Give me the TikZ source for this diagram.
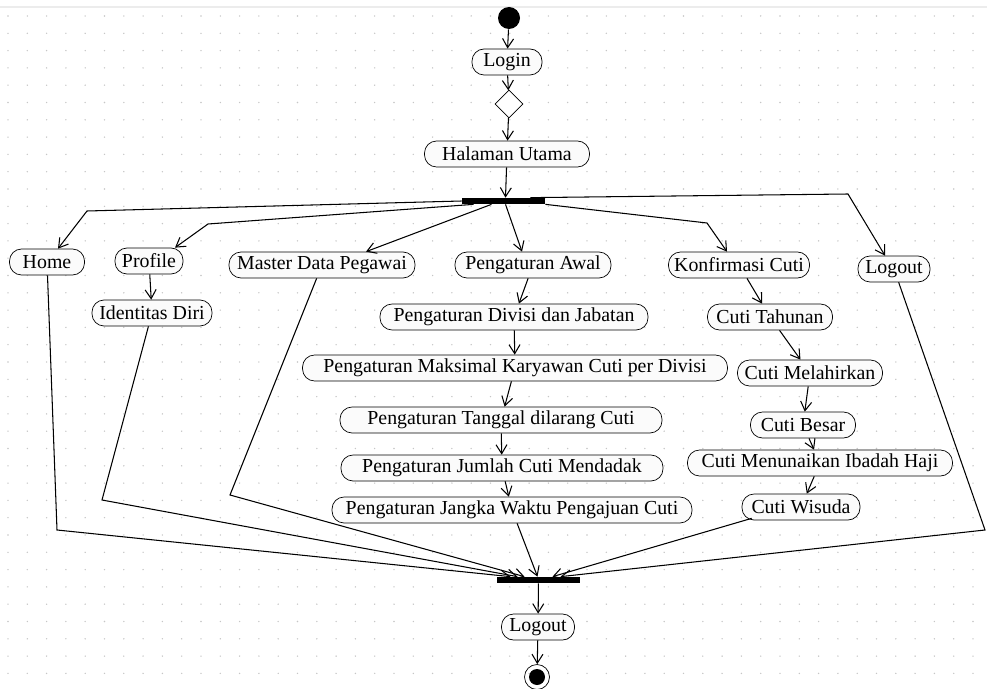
\documentclass[tikz,border=0pt]{standalone}
\usepackage{fontspec}
\setmainfont{Liberation Serif}
\usetikzlibrary{arrows.meta,shapes.geometric,calc}

\begin{document}
\begin{tikzpicture}[x=0.02cm,y=-0.02cm,
    act/.style={draw=black,fill=gray!3,rounded corners=0.24cm,minimum height=0.52cm,inner sep=1pt,font=\fontsize{11.3}{13}\selectfont},
    bar/.style={fill=black,minimum height=0.12cm,inner sep=0pt},
    flow/.style={-{Straight Barb[length=1.8mm,width=2.2mm]},semithick}]
    \useasboundingbox (0,0) rectangle (987,689);
    % background grid
    \draw[gray!15,line width=0.6pt] (0,7) -- (987,7);
    \foreach \i in {0,...,50}
        \foreach \j in {0,...,38}
            \fill[gray!45] (8+19.3*\i,16+17.3*\j) circle (0.45pt);
    % main flow
    \node[circle,fill=black,minimum size=0.44cm,inner sep=0pt] (start) at (509,18) {};
    \node[act,minimum width=1.4cm] (login) at (507,62) {Login};
    \node[diamond,draw,fill=white,minimum size=0.56cm,inner sep=0pt] (dec) at (509,104) {};
    \node[act,minimum width=3.3cm] (utama) at (507,154) {Halaman Utama};
    \node[bar,minimum width=1.66cm] (fork) at (503.5,201) {};
    % menus
    \node[act,minimum width=1.5cm] (home) at (47,262) {Home};
    \node[act,minimum width=1.36cm] (profile) at (149,261) {Profile};
    \node[act,minimum width=2.4cm] (ident) at (152,313) {Identitas Diri};
    \node[act,minimum width=3.72cm] (master) at (322,265) {Master Data Pegawai};
    \node[act,minimum width=3.12cm] (awal) at (533,265) {Pengaturan Awal};
    \node[act,minimum width=2.82cm] (konf) at (739,265) {Konfirmasi Cuti};
    \node[act,minimum width=1.44cm] (logoutA) at (894,269) {Logout};
    % pengaturan
    \node[act,minimum width=5.36cm] (divisi) at (514,317) {Pengaturan Divisi dan Jabatan};
    \node[act,minimum width=8.5cm] (maks) at (515,368) {Pengaturan Maksimal Karyawan Cuti per Divisi};
    \node[act,minimum width=6.44cm] (tanggal) at (501,420) {Pengaturan Tanggal dilarang Cuti};
    \node[act,minimum width=6.44cm] (jumlah) at (502,468) {Pengaturan Jumlah Cuti Mendadak};
    \node[act,minimum width=7.2cm] (jangka) at (512,510) {Pengaturan Jangka Waktu Pengajuan Cuti};
    % cuti
    \node[act,minimum width=2.5cm] (tahunan) at (770,317) {Cuti Tahunan};
    \node[act,minimum width=2.9cm] (lahir) at (810,373) {Cuti Melahirkan};
    \node[act,minimum width=2.1cm] (besar) at (803,425) {Cuti Besar};
    \node[act,minimum width=5.3cm] (haji) at (820,463) {Cuti Menunaikan Ibadah Haji};
    \node[act,minimum width=2.36cm] (wisuda) at (801,507) {Cuti Wisuda};
    % end
    \node[bar,minimum width=1.66cm] (join) at (538.5,580) {};
    \node[act,minimum width=1.46cm] (logoutB) at (538,627) {Logout};
    \node[circle,draw,minimum size=0.5cm,inner sep=0pt,
        path picture={\fill (path picture bounding box.center) circle (0.16cm);}] (end) at (537,677) {};

    \draw[flow] (start) -- (login);
    \draw[flow] (login) -- (dec);
    \draw[flow] (dec) -- (utama);
    \draw[flow] (utama) -- ($(fork.north)+(2,0)$);
    % fork
    \draw[flow] (fork.west) -- (87,211) -- ($(home.north)+(11,0)$);
    \draw[flow] ($(fork.south west)+(12,0)$) -- (208,224) -- ($(profile.north)+(26,0)$);
    \draw[flow] ($(fork.south)+(-12,0)$) -- ($(master.north)+(44,0)$);
    \draw[flow] ($(fork.south)+(2,0)$) -- ($(awal.north)+(-11,0)$);
    \draw[flow] (fork.south east) -- (707,223) -- ($(konf.north)+(-12,0)$);
    \draw[flow] ($(fork.north east)+(-15,0)$) -- (848,194) -- ($(logoutA.north)+(-9,0)$);
    % sub menus
    \draw[flow] (profile) -- (ident);
    \draw[flow] (awal) -- (divisi);
    \draw[flow] (divisi) -- (maks);
    \draw[flow] (maks) -- (tanggal);
    \draw[flow] (tanggal) -- (jumlah);
    \draw[flow] (jumlah) -- (jangka);
    \draw[flow] (konf) -- (tahunan);
    \draw[flow] (tahunan) -- (lahir);
    \draw[flow] (lahir) -- (besar);
    \draw[flow] (besar) -- (haji);
    \draw[flow] (haji) -- (wisuda);
    % join
    \draw[flow] (home) -- (57,530) -- ($(join.north)+(-28,0)$);
    \draw[flow] (ident) -- (102,500) -- ($(join.north)+(-21,0)$);
    \draw[flow] (master) -- (230,495) -- ($(join.north)+(-14,0)$);
    \draw[flow] (jangka) -- ($(join.north)+(-1,0)$);
    \draw[flow] ($(wisuda.south west)+(10,-2)$) -- ($(join.north)+(14,0)$);
    \draw[flow] (logoutA) -- (985,530) -- ($(join.north)+(22,0)$);
    \draw[flow] (join) -- (logoutB);
    \draw[flow] (logoutB) -- (end);
\end{tikzpicture}
\end{document}
